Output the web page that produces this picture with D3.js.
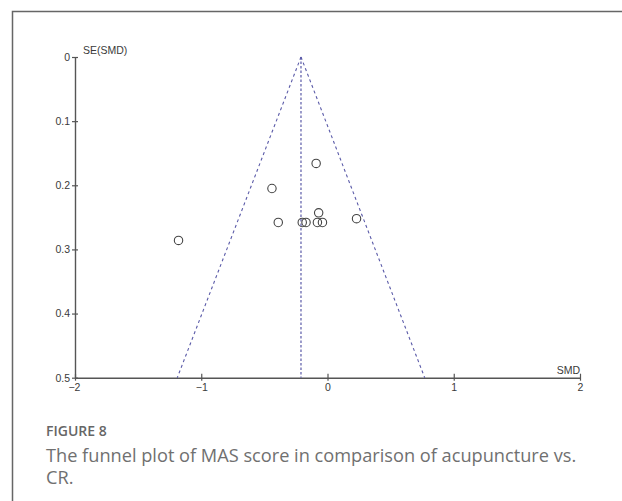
<!DOCTYPE html>
<html>
<head>
<meta charset="utf-8">
<script src="https://cdn.jsdelivr.net/npm/d3@7"></script>
<style>
  html, body { margin: 0; padding: 0; background: #fff; }
  svg { display: block; }
</style>
</head>
<body>
<svg id="chart" width="622" height="501"></svg>
<script>
// ---- data ----
const studySMD = [-1.18, -0.44, -0.39, -0.20, -0.17, -0.09, -0.08, -0.07, -0.04, 0.23];
const studySE  = [0.286, 0.205, 0.258, 0.258, 0.258, 0.166, 0.258, 0.243, 0.258, 0.252];
const pooledSMD = -0.21;
const xTicks = [-2, -1, 0, 1, 2];
const yTicks = [0, 0.1, 0.2, 0.3, 0.4, 0.5];
const xLabel = "SMD";
const yLabel = "SE(SMD)";
const captionTitle = "FIGURE 8";
const captionLines = ["The funnel plot of MAS score in comparison of acupuncture vs.", "CR."];

// ---- drawing ----
const svg = d3.select("#chart");

// figure frame (left and top edges visible)
svg.append("path")
  .attr("d", "M12.5,501 L12.5,11.5 L622,11.5")
  .attr("fill", "none").attr("stroke", "#666").attr("stroke-width", 1.5);

const x = d3.scaleLinear().domain([-2, 2]).range([75, 580]);
const y = d3.scaleLinear().domain([0, 0.5]).range([57, 377.7]);

const axisColor = "#555";
const tickFont = "Arial, 'Liberation Sans', sans-serif";
const tickSize = "10.5px";

// y axis
const yAxis = svg.append("g").attr("transform", `translate(${x(-2)},0)`)
  .call(d3.axisLeft(y).tickValues(yTicks).tickFormat(d => d === 0 ? "0" : d3.format(".1f")(d)).tickSizeInner(3).tickSizeOuter(0).tickPadding(2));
yAxis.select(".domain").attr("stroke", axisColor).attr("stroke-width", 1.4);
yAxis.selectAll(".tick line").attr("stroke", axisColor).attr("stroke-width", 1.2).attr("x1", 3);
yAxis.selectAll(".tick text").attr("fill", "#3a3a3a").style("font-family", tickFont).style("font-size", tickSize).attr("dy", "0.32em");

// x axis
const xAxis = svg.append("g").attr("transform", `translate(0,${y(0.5)})`)
  .call(d3.axisBottom(x).tickValues(xTicks).tickFormat(d3.format("d")).tickSizeInner(3).tickSizeOuter(0).tickPadding(3));
xAxis.select(".domain").attr("stroke", axisColor).attr("stroke-width", 1.4);
xAxis.selectAll(".tick line").attr("stroke", axisColor).attr("stroke-width", 1.2).attr("y1", -4);
xAxis.selectAll(".tick text").attr("fill", "#3a3a3a").style("font-family", tickFont).style("font-size", tickSize);
xAxis.selectAll(".tick text").filter(d => d === -2).attr("dx", "-0.1em");

// axis titles
svg.append("text").attr("x", x(-2) + 8).attr("y", y(0) - 3)
  .attr("fill", "#3a3a3a").style("font-family", tickFont).style("font-size", tickSize).text(yLabel);
svg.append("text").attr("x", x(2)).attr("y", y(0.5) - 4).attr("text-anchor", "end")
  .attr("fill", "#3a3a3a").style("font-family", tickFont).style("font-size", tickSize).text(xLabel);

// funnel lines
const dashColor = "#5a5aa8";
const zCrit = 1.96;
const seMax = 0.5;
svg.append("line")
  .attr("x1", x(pooledSMD)).attr("y1", y(0))
  .attr("x2", x(pooledSMD)).attr("y2", y(seMax))
  .attr("stroke", dashColor).attr("stroke-width", 1.2).attr("stroke-dasharray", "2.5,2");
[-1, 1].forEach(s => {
  svg.append("line")
    .attr("x1", x(pooledSMD)).attr("y1", y(0))
    .attr("x2", x(pooledSMD + s * zCrit * seMax)).attr("y2", y(seMax))
    .attr("stroke", dashColor).attr("stroke-width", 1.1).attr("stroke-dasharray", "3,3");
});

// study points
svg.append("g").selectAll("circle")
  .data(studySMD.map((v, i) => ({smd: v, se: studySE[i]})))
  .join("circle")
  .attr("cx", d => x(d.smd)).attr("cy", d => y(d.se)).attr("r", 4.2)
  .attr("fill", "none").attr("stroke", "#444").attr("stroke-width", 1.1);

// caption
const capFont = "'Open Sans', 'Noto Sans', sans-serif";
svg.append("text").attr("x", 46).attr("y", 436)
  .attr("fill", "#666").style("font-family", capFont).style("font-size", "14px").style("font-weight", "600")
  .text(captionTitle);
captionLines.forEach((line, i) => {
  svg.append("text").attr("x", 46).attr("y", 462 + i * 22)
    .attr("fill", "#707070").style("font-family", capFont).style("font-size", "18.2px")
    .text(line);
});
</script>
</body>
</html>
